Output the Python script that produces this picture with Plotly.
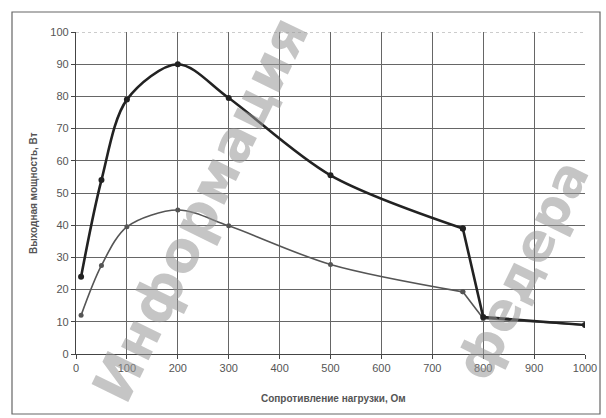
import plotly.graph_objects as go

# Data
resistance = [10, 50, 100, 200, 300, 500, 760, 800, 1000]
power_upper = [24, 54, 79, 90, 79.5, 55.5, 39, 11.5, 9]
power_lower = [12, 27.5, 39.5, 44.7, 39.8, 27.8, 19.3, 11, 9]

x_ticks = list(range(0, 1001, 100))
y_ticks = list(range(0, 101, 10))

x_title = "Сопротивление нагрузки, Ом"
y_title = "Выходная мощность, Вт"

# plot-area geometry (pixels)
L, R, T, B = 76, 585, 32, 354
W, H = R - L, B - T


def px(xp):
    return (xp - L) / W


def py(yp):
    return (B - yp) / H


fig = go.Figure()

SPLIT = 6  # smooth part up to 760 Ом, straight segments afterwards
series = [
    (power_lower, "#555555", 1.6, 5),
    (power_upper, "#222222", 2.6, 6),
]
for ys, col, lw, ms in series:
    fig.add_trace(go.Scatter(
        x=resistance[:SPLIT + 1], y=ys[:SPLIT + 1], mode="lines+markers",
        line=dict(color=col, width=lw, shape="spline", smoothing=0.9),
        marker=dict(color=col, size=ms), showlegend=False, hoverinfo="x+y",
    ))
    fig.add_trace(go.Scatter(
        x=resistance[SPLIT:], y=ys[SPLIT:], mode="lines+markers",
        line=dict(color=col, width=lw),
        marker=dict(color=col, size=ms), showlegend=False, hoverinfo="x+y",
    ))

font_family = "Liberation Sans, Arial, sans-serif"

axis_common = dict(
    showgrid=True, gridcolor="#666666", gridwidth=1,
    showline=True, linecolor="#444444", linewidth=1.2,
    ticks="outside", ticklen=4, tickcolor="#444444",
    zeroline=False, tickfont=dict(size=11, color="#555555"),
    automargin=False,
)

fig.update_layout(
    width=606, height=418,
    margin=dict(l=L, r=606 - R, t=T, b=418 - B, autoexpand=False),
    paper_bgcolor="white", plot_bgcolor="white",
    font=dict(family=font_family, color="#555555", size=11),
    xaxis=dict(range=[0, 1000], tickvals=x_ticks,
               ticktext=[str(v) for v in x_ticks], **axis_common),
    yaxis=dict(range=[0, 100], tickvals=y_ticks,
               ticktext=[str(v) for v in y_ticks], **axis_common),
)

# axis titles
fig.add_annotation(text="<b>" + x_title + "</b>", xref="paper", yref="paper",
                   x=px(333), y=py(398), xanchor="center", yanchor="middle",
                   showarrow=False, font=dict(size=10, color="#555555"))
fig.add_annotation(text="<b>" + y_title + "</b>", xref="paper", yref="paper",
                   x=px(33), y=py(193), xanchor="center", yanchor="middle",
                   textangle=-90, showarrow=False, font=dict(size=10, color="#555555"))

# light dotted top edge at 100
fig.add_shape(type="line", xref="x", yref="y", x0=0, x1=1000, y0=100, y1=100,
              line=dict(color="white", width=2), layer="below")
fig.add_shape(type="line", xref="x", yref="y", x0=0, x1=1000, y0=100, y1=100,
              line=dict(color="#999999", width=1, dash="dot"), layer="below")

# outer frame of the chart
fig.add_shape(type="rect", xref="paper", yref="paper",
              x0=px(12), x1=px(600), y0=py(414), y1=py(12),
              line=dict(color="#666666", width=1.2), layer="above")

# watermark
wm_font = dict(size=56, color="rgba(150,150,150,0.55)", family="DejaVu Sans")
fig.add_annotation(text="<b>Информация</b>", xref="paper", yref="paper",
                   x=px(200), y=py(209), xanchor="center", yanchor="middle",
                   showarrow=False, textangle=-64, font=wm_font)
fig.add_annotation(text="<b>федера</b>", xref="paper", yref="paper",
                   x=px(522), y=py(270), xanchor="center", yanchor="middle",
                   showarrow=False, textangle=-64,
                   font=dict(size=52, color="rgba(150,150,150,0.55)", family="DejaVu Sans"))

fig.write_html("out.html", config={"displayModeBar": False},
               post_script="document.body.style.margin='0';")
